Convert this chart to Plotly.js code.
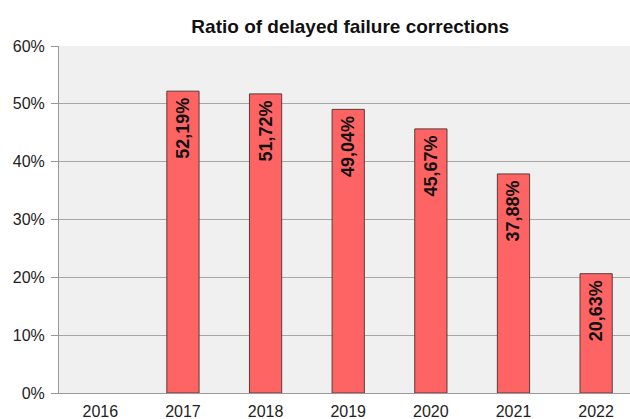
<!DOCTYPE html>
<html><head><meta charset="utf-8">
<script src="https://cdn.plot.ly/plotly-3.0.1.min.js"></script>
<style>body{margin:0;background:#fff}#c{width:630px;height:419px}</style>
</head><body><div id="c"></div>
<script>
const years = ['2016','2017','2018','2019','2020','2021','2022'];
const ratios = [null, 52.19, 51.72, 49.04, 45.67, 37.88, 20.63];
const yTicks = [0,10,20,30,40,50,60];
const yTickLabels = ['0%','10%','20%','30%','40%','50%','60%'];
const labels = ratios.map(v => v === null ? '' : v.toFixed(2).replace('.', ',') + '%\u2009');

const trace = {
  type: 'bar', x: years, y: ratios, text: labels,
  textposition: 'inside', insidetextanchor: 'end', textangle: -90,
  textfont: {family: 'Liberation Sans, Arial, sans-serif', size: 18, color: '#111', weight: 'bold'},
  constraintext: 'none', cliponaxis: false,
  width: 0.39,
  marker: {color: '#ff6464', line: {color: '#5a3a3a', width: 1}},
  hoverinfo: 'skip'
};
const layout = {
  width: 630, height: 419,
  margin: {l: 59, r: 0, t: 46, b: 26},
  paper_bgcolor: '#ffffff', plot_bgcolor: '#f0f0f0',
  font: {family: 'Liberation Sans, Arial, sans-serif', color: '#222', size: 16},
  title: {text: '<b>Ratio of delayed failure corrections</b>', font: {size: 19, color: '#111'},
          xref: 'container', x: 0.556, xanchor: 'center', yref: 'container', y: 0.938, yanchor: 'middle'},
  showlegend: false,
  xaxis: {type: 'category', range: [-0.5, 6.41], showgrid: false, showline: true, linecolor: '#999', linewidth: 1,
          ticks: '', tickfont: {size: 16, color: '#222'}, ticklabelstandoff: 4},
  yaxis: {range: [0, 60], tickvals: yTicks, ticktext: yTickLabels, showgrid: true, gridcolor: '#a6a6a6', gridwidth: 1,
          showline: true, linecolor: '#999', linewidth: 1, ticks: 'outside', ticklen: 7, tickcolor: '#999',
          tickfont: {size: 16, color: '#222'}, zeroline: false, ticklabelstandoff: 3}
};
Plotly.newPlot('c', [trace], layout, {displayModeBar: false, staticPlot: true});
</script></body></html>
